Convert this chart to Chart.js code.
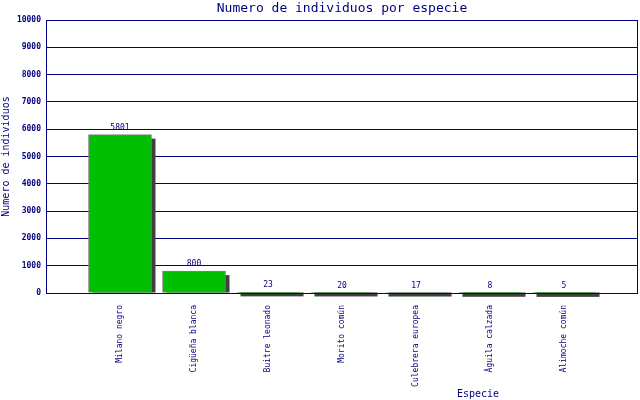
<!DOCTYPE html>
<html>
<head>
<meta charset="utf-8">
<script src="https://cdn.jsdelivr.net/npm/chart.js@4"></script>
<style>
  html, body { margin: 0; padding: 0; background: #fff; }
  #wrap { width: 640px; height: 400px; }
</style>
</head>
<body>
<div id="wrap"><canvas id="graphEspecies"></canvas></div>
<script>
const especies = ['Milano negro', 'Cigüeña blanca', 'Buitre leonado', 'Morito común', 'Culebrera europea', 'Águila calzada', 'Alimoche común'];
const individuos = [5801, 800, 23, 20, 17, 8, 5];
const yMax = 10000;
const yStep = 1000;

const navy = '#000080';
const mono = 'DejaVu Sans Mono, monospace';

// sombra desplazada detras de cada barra
const shadowPlugin = {
    id: 'barShadow',
    beforeDatasetsDraw: function(chart) {
        const ctx = chart.ctx;
        ctx.save();
        ctx.fillStyle = '#404040';
        chart.getDatasetMeta(0).data.forEach(bar => {
            const { x, y, base, width } = bar.getProps(['x', 'y', 'base', 'width'], true);
            ctx.fillRect(x - width / 2 + 4, y + 4, width, base - y - 4);
        });
        ctx.restore();
    }
};

// valores encima de las barras, marco y titulo del eje x
const labelsPlugin = {
    id: 'valueLabels',
    afterDatasetsDraw: function(chart) {
        const ctx = chart.ctx;
        const area = chart.chartArea;
        ctx.save();
        ctx.font = '8px ' + mono;
        ctx.fillStyle = navy;
        ctx.textAlign = 'center';
        ctx.textBaseline = 'bottom';
        chart.getDatasetMeta(0).data.forEach((bar, i) => {
            ctx.fillText(individuos[i], bar.x, bar.y - 3);
        });
        ctx.strokeStyle = navy;
        ctx.lineWidth = 1;
        ctx.strokeRect(Math.round(area.left) + 0.5, Math.round(area.top) + 0.5,
            Math.round(area.right - area.left) - 1, Math.round(area.bottom - area.top));
        ctx.font = '10px ' + mono;
        ctx.textBaseline = 'middle';
        ctx.fillText('Especie', 478, 394);
        ctx.restore();
    }
};

const especiesGraph = new Chart(document.getElementById('graphEspecies'), {
    type: 'bar',
    data: {
        datasets: [{
            data: individuos.map((v, i) => ({ x: i, y: v })),
            backgroundColor: '#00bf00',
            borderColor: '#808080',
            borderWidth: 1,
            barThickness: 63
        }]
    },
    plugins: [shadowPlugin, labelsPlugin],
    options: {
        responsive: true,
        maintainAspectRatio: false,
        animation: false,
        devicePixelRatio: 1,
        layout: { padding: { left: 0, right: 2, top: 0, bottom: 0 } },
        plugins: {
            legend: { display: false },
            tooltip: { enabled: false },
            title: {
                display: true,
                text: 'Numero de individuos por especie',
                color: navy,
                fullSize: false,
                font: { family: mono, size: 13, weight: 'normal', lineHeight: 1.2 },
                padding: { top: 1, bottom: 3.4 }
            }
        },
        scales: {
            x: {
                type: 'linear',
                min: -1,
                max: 7,
                offset: false,
                afterBuildTicks: function(scale) {
                    scale.ticks = especies.map((_, i) => ({ value: i }));
                },
                afterFit: function(scale) {
                    scale.height = 107;
                },
                grid: { display: false, offset: false },
                border: { display: false },
                ticks: {
                    color: navy,
                    font: { family: mono, size: 8 },
                    minRotation: 90,
                    maxRotation: 90,
                    padding: 4,
                    autoSkip: false,
                    callback: function(value) {
                        return especies[value];
                    }
                }
            },
            y: {
                min: 0,
                max: yMax,
                afterFit: function(scale) {
                    scale.width = 46;
                },
                grid: { color: navy, lineWidth: 1, drawTicks: false },
                border: { display: false },
                ticks: {
                    stepSize: yStep,
                    color: navy,
                    padding: 5,
                    font: { family: mono, size: 8, weight: 'bold' },
                    callback: function(value) {
                        return String(value);
                    }
                },
                title: {
                    display: true,
                    text: 'Numero de individuos',
                    color: navy,
                    font: { family: mono, size: 10 },
                    padding: 0
                }
            }
        }
    }
});
</script>
</body>
</html>
